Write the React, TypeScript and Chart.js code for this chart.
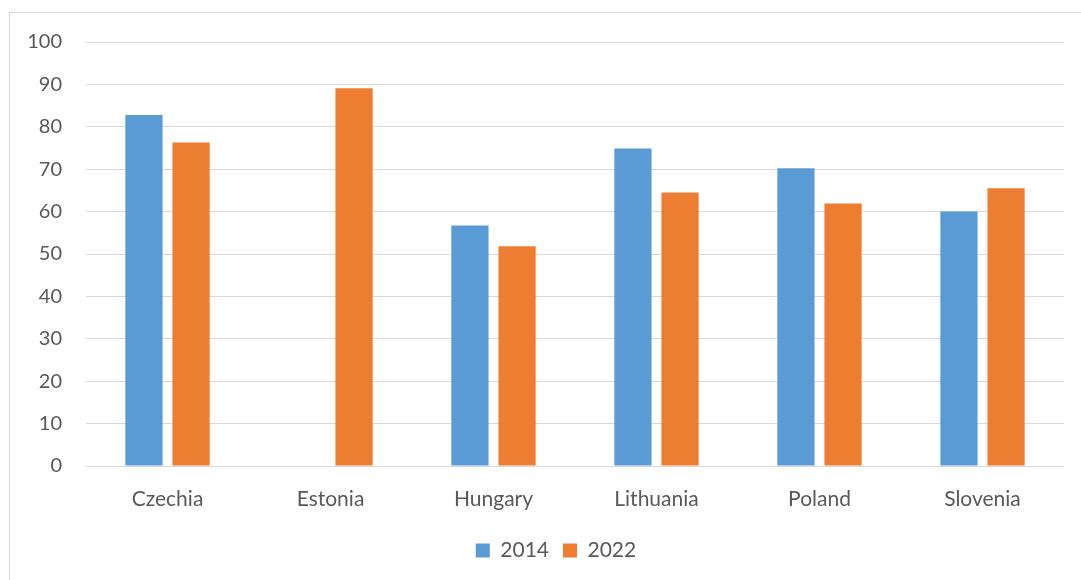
import React, { useEffect, useRef } from "react";
import { Chart, registerables } from "chart.js";

Chart.register(...registerables);

const categories = ["Czechia", "Estonia", "Hungary", "Lithuania", "Poland", "Slovenia"];
const series2014: (number | null)[] = [82.8, null, 56.7, 74.9, 70.2, 60.0];
const series2022: number[] = [76.3, 89.1, 51.8, 64.5, 61.9, 65.5];
const yTicks = [0, 10, 20, 30, 40, 50, 60, 70, 80, 90, 100];

const FONT = "Lato, 'Open Sans', sans-serif";
const TEXT = "#595959";

const legendShift = {
  id: "legendShift",
  beforeDraw(chart: any) {
    const lg = chart.legend;
    if (lg && !lg._shifted) {
      lg.left += 19;
      lg.right += 19;
      lg._shifted = true;
    }
  },
};

export default function App() {
  const ref = useRef<HTMLCanvasElement | null>(null);

  useEffect(() => {
    if (!ref.current) return;
    const chart = new Chart(ref.current, {
      type: "bar",
      data: {
        labels: categories,
        datasets: [
          {
            label: "2014",
            data: series2014,
            backgroundColor: "#5B9BD5",
            categoryPercentage: 0.578,
            barPercentage: 0.79,
          },
          {
            label: "2022",
            data: series2022,
            backgroundColor: "#ED7D31",
            categoryPercentage: 0.578,
            barPercentage: 0.79,
          },
        ],
      },
      options: {
        responsive: false,
        animation: false,
        layout: { padding: { left: 0, right: 17, top: 29, bottom: 9 } },
        scales: {
          x: {
            grid: { display: false, drawTicks: false },
            border: { display: false },
            ticks: { color: TEXT, font: { family: FONT, size: 21 }, padding: 21 },
            afterFit: (s: any) => {
              s.height = 60;
            },
          },
          y: {
            min: 0,
            max: 100,
            afterBuildTicks: (s: any) => {
              s.ticks = yTicks.map((v) => ({ value: v }));
            },
            grid: { color: "#d9d9d9", lineWidth: 1, drawTicks: false },
            border: { display: false },
            ticks: { color: TEXT, font: { family: FONT, size: 20 }, padding: 24 },
            afterFit: (s: any) => {
              s.width = 76;
              s.paddingTop = 0;
              s.paddingBottom = 0;
            },
          },
        },
        plugins: {
          legend: {
            position: "bottom",
            labels: {
              color: TEXT,
              font: { family: FONT, size: 21 },
              boxWidth: 14,
              boxHeight: 14,
              padding: 14,
            },
          },
          tooltip: { enabled: false },
        },
      },
      plugins: [legendShift],
    });
    return () => chart.destroy();
  }, []);

  return (
    <div
      style={{
        position: "absolute",
        left: 9,
        top: 12,
        width: 1080,
        height: 580,
        borderLeft: "1px solid #d9d9d9",
        borderTop: "1px solid #d9d9d9",
        background: "#fff",
      }}
    >
      <canvas ref={ref} width={1071} height={567} style={{ display: "block" }} />
    </div>
  );
}
